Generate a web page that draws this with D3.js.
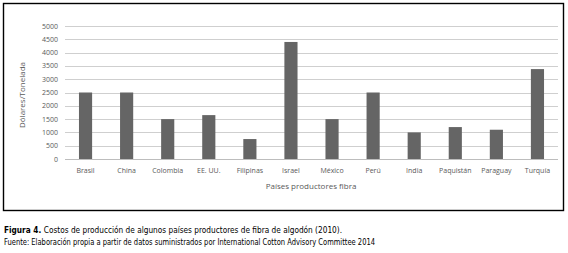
<!DOCTYPE html>
<html>
<head>
<meta charset="utf-8">
<script src="https://cdn.jsdelivr.net/npm/d3@7"></script>
<style>
  body { margin: 0; background: #fff; }
  svg { display: block; }
</style>
</head>
<body>
<svg width="568" height="253"></svg>
<script>
// data
const paises = ["Brasil", "China", "Colombia", "EE. UU.", "Filipinas", "Israel", "México", "Perú", "India", "Paquistán", "Paraguay", "Turquía"]
const costos = [2500, 2500, 1500, 1650, 750, 4400, 1500, 2500, 1000, 1200, 1100, 3380]
const yTicks = [0, 500, 1000, 1500, 2000, 2500, 3000, 3500, 4000, 4500, 5000]

const svg = d3.select("svg")
const labelFont = "'Open Sans', 'DejaVu Sans', sans-serif"
const capFont = "'Liberation Sans Narrow', 'DejaVu Sans Condensed', sans-serif"

// frame
svg.append("rect")
  .attr("x", 3.5).attr("y", 3.5)
  .attr("width", 560).attr("height", 207)
  .attr("fill", "none")
  .attr("stroke", "#000")
  .attr("stroke-width", 1.4)

const x = d3.scaleBand()
  .domain(paises)
  .range([65, 558])
  .paddingInner(0.68)
  .paddingOuter(0.34)

const y = d3.scaleLinear()
  .domain([0, 5000])
  .range([159, 26])

// gridlines
svg.append("g")
  .selectAll("line")
  .data(yTicks)
  .enter().append("line")
    .attr("x1", 65).attr("x2", 558)
    .attr("y1", d => Math.round(y(d)) + 0.5)
    .attr("y2", d => Math.round(y(d)) + 0.5)
    .attr("stroke", d => d === 0 ? "#bdbdbd" : "#cfcfcf")
    .attr("stroke-width", 1)

// y tick labels
svg.append("g")
  .selectAll("text")
  .data(yTicks)
  .enter().append("text")
    .attr("x", 58)
    .attr("y", d => y(d) + 2.5)
    .attr("text-anchor", "end")
    .attr("font-family", labelFont)
    .attr("font-size", 7)
    .attr("fill", "#595959")
    .text(d => d)

// bars
svg.append("g")
  .selectAll("rect")
  .data(paises)
  .enter().append("rect")
    .attr("x", d => x(d))
    .attr("width", x.bandwidth())
    .attr("y", (d, i) => y(costos[i]))
    .attr("height", (d, i) => y(0) - y(costos[i]))
    .attr("fill", "#656565")

// category labels
svg.append("g")
  .selectAll("text")
  .data(paises)
  .enter().append("text")
    .attr("x", d => x(d) + x.bandwidth() / 2)
    .attr("y", 173)
    .attr("text-anchor", "middle")
    .attr("font-family", labelFont)
    .attr("font-size", 7)
    .attr("fill", "#595959")
    .text(d => d)

// axis titles
svg.append("text")
  .attr("x", 311).attr("y", 189)
  .attr("text-anchor", "middle")
  .attr("font-family", labelFont)
  .attr("font-size", 8)
  .attr("fill", "#595959")
  .text("Países productores fibra")

svg.append("text")
  .attr("transform", "translate(25,95) rotate(-90)")
  .attr("text-anchor", "middle")
  .attr("font-family", labelFont)
  .attr("font-size", 8)
  .attr("fill", "#595959")
  .text("Dólares/Tonelada")

// caption
const cap1 = svg.append("text")
  .attr("x", 4).attr("y", 233)
  .attr("font-family", capFont)
  .attr("font-size", 9)
  .attr("fill", "#000")
  .attr("textLength", 338)
  .attr("lengthAdjust", "spacingAndGlyphs")
cap1.append("tspan").attr("font-weight", "bold").text("Figura 4. ")
cap1.append("tspan").text("Costos de producción de algunos países productores de fibra de algodón (2010).")

svg.append("text")
  .attr("x", 4).attr("y", 245)
  .attr("font-family", capFont)
  .attr("font-size", 9)
  .attr("fill", "#000")
  .attr("textLength", 371)
  .attr("lengthAdjust", "spacingAndGlyphs")
  .text("Fuente: Elaboración propia a partir de datos suministrados por International Cotton Advisory Committee 2014")
</script>
</body>
</html>
